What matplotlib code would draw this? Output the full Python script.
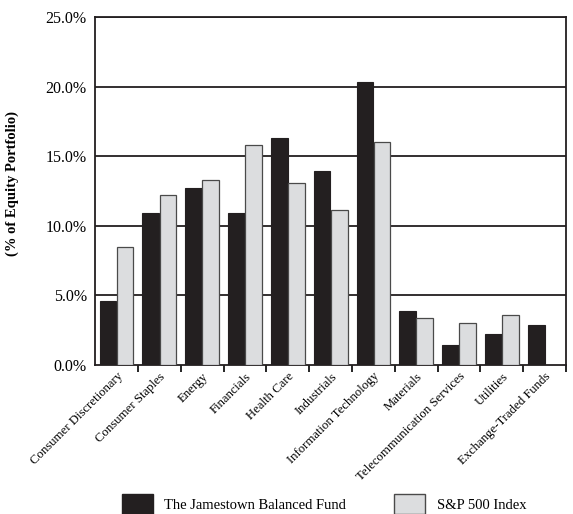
import numpy as np
import matplotlib.pyplot as plt
from matplotlib.patches import Patch

categories = ['Consumer Discretionary', 'Consumer Staples', 'Energy', 'Financials',
              'Health Care', 'Industrials', 'Information Technology', 'Materials',
              'Telecommunication Services', 'Utilities', 'Exchange-Traded Funds']
fund = [4.6, 10.9, 12.7, 10.9, 16.3, 13.9, 20.3, 3.9, 1.4, 2.2, 2.9]
sp500 = [8.5, 12.2, 13.3, 15.8, 13.1, 11.1, 16.0, 3.4, 3.0, 3.6, 0.0]
yticks = [0, 5, 10, 15, 20, 25]

plt.rcParams['font.family'] = ['Liberation Serif', 'DejaVu Serif']

fig = plt.figure(figsize=(5.73, 5.14), dpi=100)
ax = fig.add_axes([0.166, 0.29, 0.822, 0.677])

x = np.arange(len(categories))
w = 0.39
ax.bar(x - 0.2, fund, w, color='#231f20', edgecolor='#231f20', linewidth=0.8, zorder=3)
ax.bar(x + 0.2, sp500, w, color='#dcdddf', edgecolor='#4a4a4a', linewidth=0.9, zorder=3)

ax.set_xlim(-0.5, len(categories) - 0.5)
ax.set_ylim(0, 25)
ax.set_yticks(yticks)
ax.set_yticklabels(['%.1f%%' % v for v in yticks], fontsize=11.5)
ax.tick_params(axis='y', length=0, pad=6)
for v in yticks[1:]:
    ax.axhline(v, color='#231f20', linewidth=1.3, zorder=1)

# ticks sit between categories, labels sit under each category
ax.set_xticks(x + 0.5, minor=False)
ax.set_xticks(x, minor=True)
ax.set_xticklabels([])
ax.tick_params(axis='x', which='major', length=5, width=1.2, direction='out')
ax.tick_params(axis='x', which='minor', length=0)
ax.set_xticklabels(categories, minor=True, rotation=45, ha='right',
                   rotation_mode='anchor', fontsize=9.2)
ax.tick_params(axis='x', which='minor', pad=4)

for s in ax.spines.values():
    s.set_linewidth(1.3)
    s.set_color('#231f20')

ax.set_ylabel('(% of Equity Portfolio)', fontsize=10.5, fontweight='bold')
ax.yaxis.set_label_coords(-0.162, 0.52)

handles = [Patch(facecolor='#231f20', edgecolor='#231f20'),
           Patch(facecolor='#dcdddf', edgecolor='#4a4a4a')]
fig.legend(handles, ['The Jamestown Balanced Fund', 'S&P 500 Index'],
           loc='lower left', bbox_to_anchor=(0.19, -0.026), ncol=2, frameon=False,
           fontsize=10.5, handlelength=2.1, handleheight=1.8, columnspacing=3.3,
           handletextpad=0.8)

fig.savefig('out.png', dpi=100)
